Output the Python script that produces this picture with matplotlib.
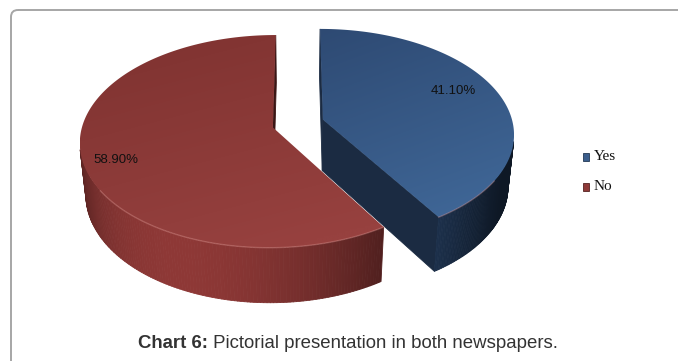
import numpy as np
import matplotlib.pyplot as plt
from matplotlib.patches import Polygon, Rectangle, FancyBboxPatch
from matplotlib.collections import PolyCollection
from matplotlib.colors import to_rgb

# --- data ---
labels = ['Yes', 'No']
values = [41.10, 58.90]
value_text = ['41.10%', '58.90%']

# --- styling ---
top_dark = ['#2e4a73', '#7e3230']
top_light = ['#3f6696', '#97413f']
side_base = ['#325585', '#8e3836']
cut_color = ['#1b2b42', '#3a1615']
legend_colors = ['#3b5e8c', '#8e3a38']
label_pos = [(453, 91), (116, 160)]

# simple perspective camera (units: pie radius = 1)
CX, CY = 298, 123.5
S = 190
D = 6.43
ELEV = np.radians(33)
THICK = 0.33
EXPLODE = 0.137
cam = np.array([0.0, -D * np.cos(ELEV), D * np.sin(ELEV)])


def project(u, v, z):
    yv = v * np.sin(ELEV) + z * np.cos(ELEV)
    w = D + v * np.cos(ELEV) - z * np.sin(ELEV)
    return CX + S * D * u / w, CY - S * D * yv / w


def facing(point, normal):
    return np.dot(normal, cam - point) > 0


def shade(rgb, f):
    return tuple(np.clip(np.array(rgb) * f, 0, 1))


fig = plt.figure(figsize=(6.78, 3.61), dpi=100)
ax = fig.add_axes([0, 0, 1, 1])
ax.set_xlim(0, 678)
ax.set_ylim(361, 0)
ax.axis('off')

# page frame
ax.add_patch(FancyBboxPatch((11, 10), 700, 400, boxstyle='round,pad=0,rounding_size=7',
                            facecolor='none', edgecolor='#a6a6a6', lw=1.4))

total = sum(values)
ends = 90 - 360 * np.cumsum([0] + values) / total
wedges = [(ends[i + 1], ends[i]) for i in range(len(values))]

# far wedge first
for i in [1, 0]:
    t1, t2 = wedges[i]
    mid = np.radians((t1 + t2) / 2)
    ou, ov = EXPLODE * np.cos(mid), EXPLODE * np.sin(mid)
    base = to_rgb(side_base[i])

    # straight cut faces
    for t, nrm in [(t1, t1 - 90), (t2, t2 + 90)]:
        tr, nr = np.radians(t), np.radians(nrm)
        normal = np.array([np.cos(nr), np.sin(nr), 0])
        p_out = np.array([ou + np.cos(tr), ov + np.sin(tr), 0])
        if not facing((p_out + np.array([ou, ov, 0])) / 2, normal):
            continue
        pts = [project(ou, ov, 0), project(p_out[0], p_out[1], 0),
               project(p_out[0], p_out[1], -THICK), project(ou, ov, -THICK)]
        ax.add_patch(Polygon(pts, closed=True, facecolor=cut_color[i],
                             edgecolor=cut_color[i], lw=0.6))

    # curved outer side
    th = np.radians(np.linspace(t1, t2, 240))
    quads, cols = [], []
    for a, b in zip(th[:-1], th[1:]):
        m = (a + b) / 2
        p = np.array([ou + np.cos(m), ov + np.sin(m), -THICK / 2])
        if not facing(p, np.array([np.cos(m), np.sin(m), 0])):
            continue
        ua, va = ou + np.cos(a), ov + np.sin(a)
        ub, vb = ou + np.cos(b), ov + np.sin(b)
        quads.append([project(ua, va, 0), project(ub, vb, 0),
                      project(ub, vb, -THICK), project(ua, va, -THICK)])
        f = 0.28 + 0.72 * max(0.0, np.cos(m - np.radians(245))) ** 1.5
        cols.append(shade(base, f))
    ax.add_collection(PolyCollection(quads, facecolors=cols, edgecolors=cols, lw=0.6))

    # top face with a soft gradient
    arc = [project(ou + np.cos(a), ov + np.sin(a), 0) for a in th]
    top = [project(ou, ov, 0)] + arc
    poly = Polygon(top, closed=True, facecolor='none', edgecolor='none')
    ax.add_patch(poly)
    xs, ys = zip(*top)
    x0, x1, y0, y1 = min(xs), max(xs), min(ys), max(ys)
    gx, gy = np.meshgrid(np.linspace(0, 1, 120), np.linspace(0, 1, 120))
    g = np.clip(0.3 * gx + 0.8 * gy, 0, 1)[..., None]
    img = np.array(to_rgb(top_dark[i])) * (1 - g) + np.array(to_rgb(top_light[i])) * g
    im = ax.imshow(img, extent=(x0, x1, y1, y0), interpolation='bilinear', zorder=2)
    im.set_clip_path(poly)

    # faint rim highlight near the front of the top face
    front = [(x, y) for a, (x, y) in zip(th, arc) if np.sin(a) < -0.55]
    if front:
        fx, fy = zip(*front)
        ax.plot(fx, fy, color='#e09a96', alpha=0.35, lw=1.0, zorder=3)

    ax.text(*label_pos[i], value_text[i], ha='center', va='center', fontsize=9.5,
            family='Liberation Sans', color='#111111', zorder=4)

# legend
for i, lab in enumerate(labels):
    y = 157 + 30 * i
    ax.add_patch(Rectangle((583, y - 4), 6, 8, facecolor=legend_colors[i],
                           edgecolor=shade(to_rgb(legend_colors[i]), 0.6), lw=0.6))
    ax.text(594, y, lab, ha='left', va='center', fontsize=11,
            family='Liberation Serif', color='#111111')

# caption
t1 = ax.text(138, 344, 'Chart 6:', ha='left', va='center', fontsize=13.4,
             family='Liberation Sans', fontweight='bold', color='#333333')
ax.annotate(' Pictorial presentation in both newspapers.', xy=(1, 0.5), xycoords=t1,
            ha='left', va='center', fontsize=13.4, family='Liberation Sans', color='#333333')

fig.savefig('out.png', dpi=100)
